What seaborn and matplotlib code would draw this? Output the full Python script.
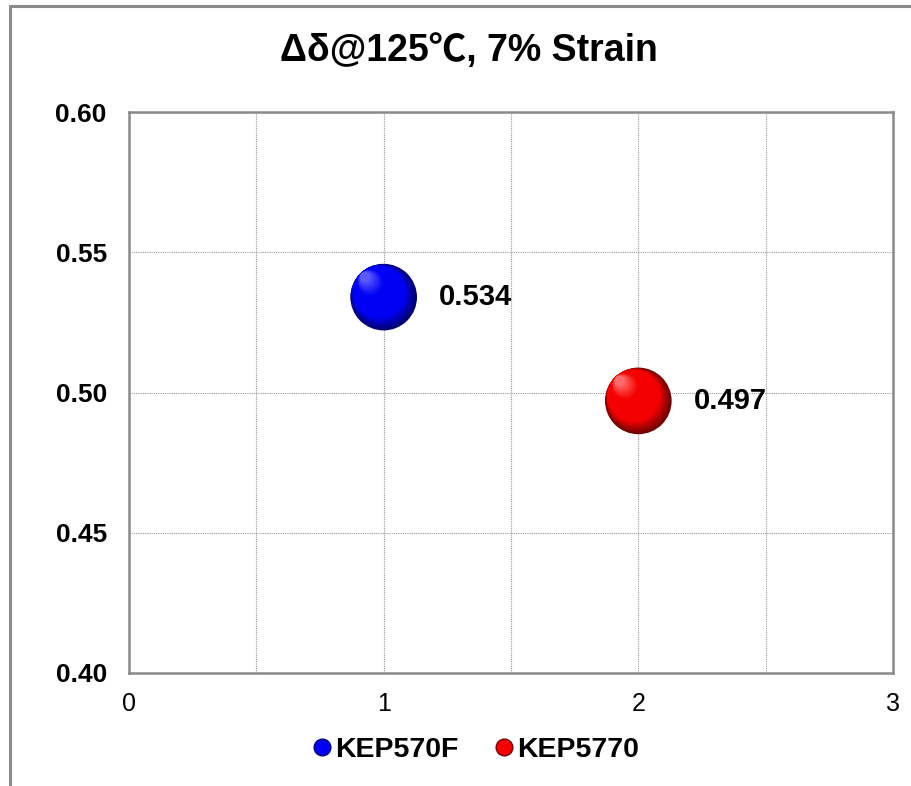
import numpy as np
import matplotlib
matplotlib.use("Agg")
import matplotlib.pyplot as plt
from matplotlib.transforms import ScaledTranslation
from matplotlib.lines import Line2D
from matplotlib.colors import to_rgb
import seaborn as sns

# ---- data ----
series = ["KEP570F", "KEP5770"]
x_vals = [1, 2]
y_vals = [0.534, 0.497]
labels = ["0.534", "0.497"]
title = "Δδ@125℃, 7% Strain"
x_ticks = [0, 1, 2, 3]
y_ticks = [0.40, 0.45, 0.50, 0.55, 0.60]

base_cols = ["#0000F5", "#F50000"]
dark_cols = ["#000070", "#700000"]
light_cols = ["#5A5AFF", "#FF6A6A"]

sns.set_style("white")
plt.rcParams['font.family'] = ['Liberation Sans', 'Noto Sans CJK SC', 'DejaVu Sans']
plt.rcParams['text.color'] = 'black'
plt.rcParams['xtick.color'] = 'black'
plt.rcParams['ytick.color'] = 'black'
plt.rcParams['axes.labelcolor'] = 'black'

fig = plt.figure(figsize=(9.11, 7.86), dpi=100)
ax = fig.add_axes([129/911, 1-673/786, 764/911, 561/786])

# figure border lines (left and top)
fig.add_artist(Line2D([10/911, 10/911], [0, 1-6/786], transform=fig.transFigure,
                      color="#8a8a8a", lw=2.2))
fig.add_artist(Line2D([10/911, 1], [1-6/786, 1-6/786], transform=fig.transFigure,
                      color="#8a8a8a", lw=2.2))

# base spheres
sns.scatterplot(x=x_vals, y=y_vals, hue=series, palette=dark_cols, s=2300,
                edgecolor="none", legend=False, ax=ax, zorder=3)

def blend(c1, c2, t):
    a = np.array(to_rgb(c1)); b = np.array(to_rgb(c2))
    return tuple(a + (b - a) * t)

R = 24.0  # radius in points
n = 26
d = np.array([-0.6, 0.65]); d = d / np.linalg.norm(d)
for k in range(1, n):
    t = k / (n - 1)
    f = 1 - 0.85 * t
    off = (1 - f) * R * 0.97 * d
    tr = ax.transData + ScaledTranslation(off[0] / 72, off[1] / 72, fig.dpi_scale_trans)
    cols = []
    for i in range(len(series)):
        if t < 0.25:
            cols.append(blend(dark_cols[i], base_cols[i], t / 0.25))
        elif t < 0.7:
            cols.append(base_cols[i])
        else:
            cols.append(blend(base_cols[i], light_cols[i], (t - 0.7) / 0.3))
    ax.scatter(x_vals, y_vals, s=(2 * R * f) ** 2, c=cols, edgecolors="none",
               transform=tr, zorder=3 + k * 0.01)

# value labels
for xv, yv, lab in zip(x_vals, y_vals, labels):
    ax.annotate(lab, (xv, yv), xytext=(40, 0), textcoords="offset points",
                ha="left", va="center", fontsize=21, fontweight="bold", zorder=5)

ax.set_xlim(0, 3)
ax.set_ylim(0.40, 0.60)
ax.set_xticks(x_ticks)
ax.set_xticks([0.5, 1.5, 2.5], minor=True)
ax.set_yticks(y_ticks)
ax.set_yticklabels([f"{v:.2f}" for v in y_ticks], fontsize=19, fontweight="bold")
ax.set_xticklabels([str(v) for v in x_ticks], fontsize=18)
ax.tick_params(axis="both", which="both", length=0)
ax.tick_params(axis="y", pad=16)
ax.tick_params(axis="x", pad=14)
ax.grid(True, which="both", color="#9a9a9a", linestyle=(0, (1, 1)), linewidth=0.8)
ax.set_axisbelow(True)
for sp in ax.spines.values():
    sp.set_color("#8a8a8a")
    sp.set_linewidth(1.8)

fig.text(469/911, 1-51/786, title, ha="center", va="center", fontsize=27,
         fontweight="bold")

handles = [Line2D([], [], marker="o", linestyle="none", markersize=12,
                  markerfacecolor=c, markeredgecolor=dc, markeredgewidth=1)
           for c, dc in zip(base_cols, dark_cols)]
leg = fig.legend(handles, series, loc="center", bbox_to_anchor=(475/911, 1-750/786),
                 ncol=2, frameon=False, handletextpad=0.05, columnspacing=1.2,
                 handlelength=0.8, prop={"size": 20.5, "weight": "bold"})

fig.savefig("out.png", dpi=100)
